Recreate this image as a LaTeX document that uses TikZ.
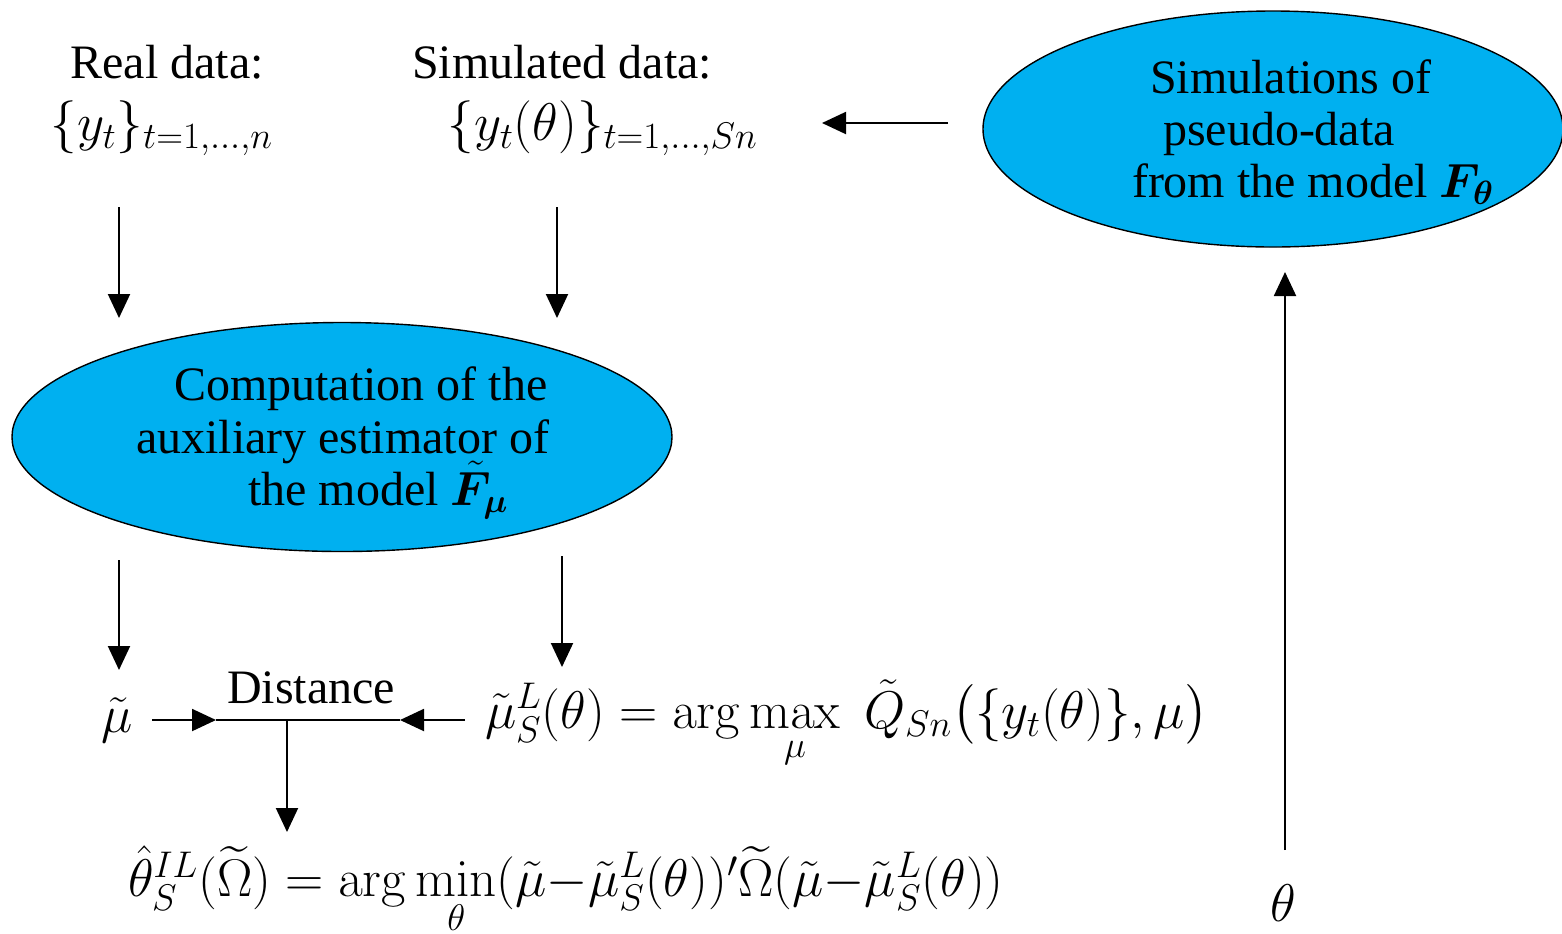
\RequirePackage{fix-cm}
\documentclass[tikz,border=0pt]{standalone}
\usepackage{amsmath,bm}
\usepackage[no-math]{fontspec}
\setmainfont{Liberation Serif}
\newfontfamily\tms{Liberation Serif}
\usetikzlibrary{arrows.meta,shapes.geometric}
\definecolor{cyanfill}{RGB}{0,176,240}
\newcommand{\mth}{\fontsize{26.5}{28}\selectfont}
\begin{document}
\begin{tikzpicture}[x=0.5pt,y=-0.5pt,
  every node/.style={font=\tms\fontsize{24}{27}\selectfont, inner sep=0pt, outer sep=0pt},
  blob/.style={ellipse, draw=black, line width=0.7pt, fill=cyanfill},
  arr/.style={-{Triangle[length=12pt,width=11pt]}, line width=1pt},
  ln/.style={line width=1pt}]
\useasboundingbox[fill=white] (0,0) rectangle (1562,933);

% ellipses
\node[blob, minimum width=290pt, minimum height=118pt] (sim) at (1273,129) {};
\node[blob, minimum width=330pt, minimum height=114.5pt] (comp) at (342,437) {};

% ellipse texts
\node[anchor=base west] (s1) at (1150,93) {Simulations of};
\node[anchor=base west] (s2) at (1163,145) {pseudo-data};
\node[anchor=base west] (s3) at (1132,197) {from the model $\bm{F}_{\bm{\theta}}$};
\node[anchor=base west] (c1) at (174,400) {Computation of the};
\node[anchor=base west] (c2) at (136,453) {auxiliary estimator of};
\node[anchor=base west] (c3) at (248,505) {the model $\tilde{\bm{F}}_{\bm{\mu}}$};

% data labels
\node[anchor=base] (rd) at (167,78) {Real data:};
\node[font=\mth] (ry) at (162,128) {$\{y_t\}_{t=1,\ldots,n}$};
\node[anchor=base] (sd) at (562,78) {Simulated data:};
\node[font=\mth] (sy) at (603,128) {$\{y_t(\theta)\}_{t=1,\ldots,Sn}$};

% lower labels
\node[font=\mth] (mu) at (117,720) {$\tilde\mu$};
\node[anchor=base] (dist) at (311,703) {Distance};
\node[anchor=west, font=\mth] (muS) at (485,725) {$\tilde\mu^L_S(\theta)=\arg\max\limits_{\mu}\;\tilde Q_{Sn}\bigl(\{y_t(\theta)\},\mu\bigr)$};
\node[anchor=west, font=\mth] (thIL) at (128,891) {$\hat\theta^{IL}_S(\widetilde\Omega)=\arg\min\limits_{\theta}(\tilde\mu{-}\tilde\mu^L_S(\theta))'\widetilde\Omega(\tilde\mu{-}\tilde\mu^L_S(\theta))$};
\node[font=\mth] (th) at (1283,903) {$\theta$};

% arrow end coordinates
\coordinate (a1s) at (119,207); \coordinate (a1e) at (119,318);
\coordinate (a2s) at (557,207); \coordinate (a2e) at (557,318);
\coordinate (a3s) at (119,560); \coordinate (a3e) at (119,670);
\coordinate (a4s) at (562,556); \coordinate (a4e) at (562,667);
\coordinate (ts) at (948,123); \coordinate (te) at (822,123);
\coordinate (us) at (1285,850); \coordinate (ue) at (1285,272);
\coordinate (dl) at (216,720); \coordinate (dr) at (400,720);
\coordinate (ml) at (152,720); \coordinate (mr) at (465,720);
\coordinate (dm) at (287,720); \coordinate (de) at (287,832);

\draw[arr] (a1s) -- (a1e);
\draw[arr] (a2s) -- (a2e);
\draw[arr] (a3s) -- (a3e);
\draw[arr] (a4s) -- (a4e);
\draw[arr] (ts) -- (te);
\draw[arr] (us) -- (ue);
\draw[ln] (dl) -- (dr);
\draw[arr] (ml) -- (dl);
\draw[arr] (mr) -- (dr);
\draw[arr] (dm) -- (de);
\end{tikzpicture}
\end{document}
